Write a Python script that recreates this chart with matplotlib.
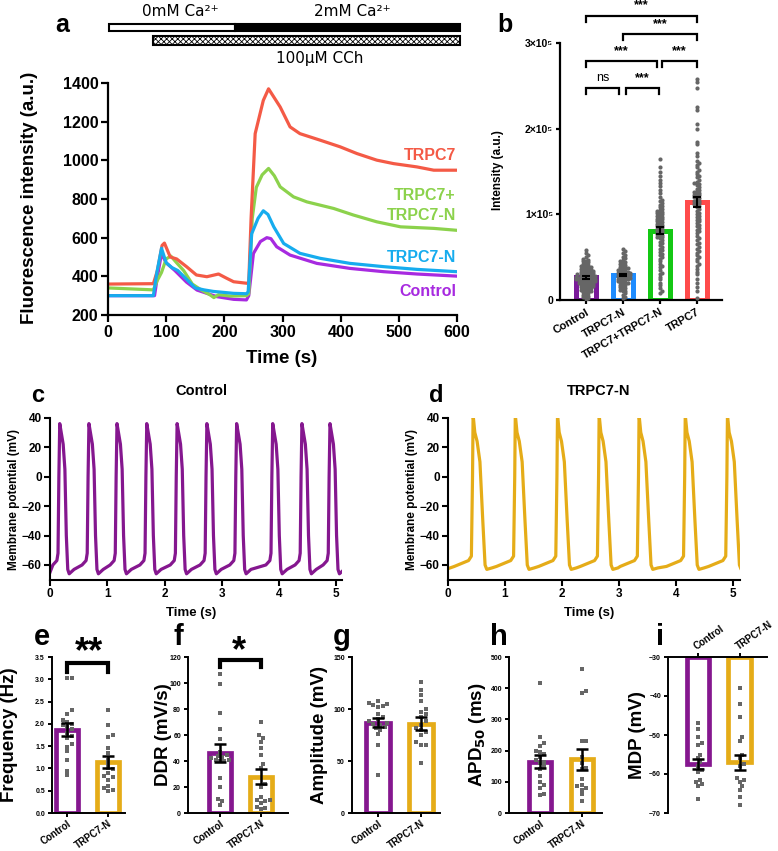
import numpy as np
import matplotlib
matplotlib.use('Agg')
import matplotlib.pyplot as plt
from matplotlib.patches import Rectangle

plt.rcParams['font.family'] = ['Liberation Sans', 'DejaVu Sans']
plt.rcParams['font.weight'] = 'bold'
plt.rcParams['axes.labelweight'] = 'bold'
plt.rcParams['hatch.linewidth'] = 0.6

# ---------------- data ----------------
# panel a: Ca2+ imaging traces (time in s, fluorescence a.u.)
t_trpc7 = [0, 78, 85, 93, 97, 107, 118, 135, 152, 170, 190, 204, 216, 239,
           242, 246, 253, 267, 276, 296, 313, 330, 365, 399, 428, 462, 491, 531, 560, 600]
v_trpc7 = [360, 362, 430, 560, 572, 500, 490, 450, 407, 398, 412, 390, 372, 364,
           370, 700, 1138, 1310, 1370, 1276, 1173, 1138, 1104, 1070, 1035, 1001, 983, 966, 949, 949]
t_both = [0, 78, 85, 92, 100, 108, 118, 130, 145, 160, 175, 182, 190, 210, 238,
          242, 248, 255, 265, 276, 286, 296, 319, 342, 388, 422, 462, 503, 560, 600]
v_both = [340, 330, 380, 420, 490, 505, 470, 430, 360, 330, 305, 290, 305, 298, 300,
          310, 700, 860, 925, 958, 920, 863, 811, 785, 751, 717, 682, 656, 648, 638]
t_n = [0, 78, 84, 92, 100, 110, 120, 135, 150, 165, 181, 216, 238,
       241, 247, 258, 267, 275, 285, 302, 330, 365, 416, 474, 531, 600]
v_n = [300, 300, 420, 545, 470, 445, 430, 385, 340, 330, 322, 312, 310,
       320, 620, 700, 739, 720, 656, 570, 519, 493, 467, 450, 436, 424]
t_ctrl = [0, 80, 85, 92, 100, 115, 135, 153, 187, 216, 238,
          242, 250, 262, 273, 280, 290, 313, 359, 416, 474, 531, 600]
v_ctrl = [300, 300, 400, 518, 470, 430, 370, 329, 295, 281, 278,
          300, 518, 580, 600, 595, 553, 510, 467, 441, 424, 412, 401]

# panel b: intensity per cell (x1000 a.u.)
b_groups = ['Control', 'TRPC7-N', 'TRPC7+TRPC7-N', 'TRPC7']
b_means = [26.5, 29, 80.7, 114]
b_sems = [1.5, 1.5, 4, 6]
b_ctrl = [58, 55, 52, 50, 48, 47, 46, 45, 44, 43, 42, 41, 40, 40, 39, 38, 38, 37, 36, 36,
          35, 35, 34, 34, 33, 33, 32, 32, 31, 31, 30, 30, 30, 29, 29, 28, 28, 28, 27, 27,
          27, 26, 26, 26, 25, 25, 25, 24, 24, 24, 23, 23, 23, 22, 22, 22, 21, 21, 20, 20,
          20, 19, 19, 18, 18, 17, 17, 16, 16, 15, 15, 14, 14, 13, 12, 12, 11, 10, 10, 9,
          8, 7, 6, 5, 4, 3, 2, 1]
b_n = [60, 57, 55, 52, 50, 49, 47, 45, 44, 43, 42, 41, 40, 39, 38, 37, 37, 36, 35, 35,
       34, 33, 33, 32, 32, 31, 31, 30, 30, 29, 29, 28, 28, 27, 27, 26, 26, 25, 25, 24,
       24, 23, 22, 22, 21, 20, 20, 19, 18, 17, 16, 15, 14, 13, 12, 11, 10, 8, 6, 4, 2]
b_both = [165, 155, 150, 145, 140, 137, 133, 128, 125, 120, 117, 115, 113, 111, 110, 108,
          106, 105, 104, 103, 102, 101, 100, 99, 98, 97, 96, 95, 94, 93, 92, 91, 90, 89,
          88, 87, 86, 85, 84, 83, 82, 81, 80, 79, 78, 77, 76, 75, 74, 73, 72, 70, 68, 66,
          64, 62, 60, 58, 56, 54, 52, 50, 48, 45, 42, 40, 38, 35, 32, 30, 27, 24, 20, 17,
          14, 10, 8]
b_trpc7 = [258, 255, 248, 225, 222, 205, 200, 185, 182, 172, 168, 162, 160, 158, 155, 152,
           150, 147, 145, 143, 140, 138, 136, 135, 134, 132, 130, 128, 127, 126, 125, 124,
           123, 122, 121, 120, 119, 118, 116, 115, 114, 113, 112, 111, 110, 108, 106, 104,
           102, 100, 98, 97, 95, 93, 92, 90, 88, 86, 84, 82, 80, 78, 75, 72, 70, 67, 65, 62,
           60, 57, 55, 52, 50, 48, 45, 42, 40, 36, 33, 30, 25, 20, 15, 10, 2]

# panels c, d: action potentials (peak times in s, one beat shape)
c_peaks = [0.17, 0.68, 1.17, 1.69, 2.22, 2.74, 3.26, 3.89, 4.40, 4.89]
c_beat_t = [-0.12, -0.05, -0.03, -0.015, 0.0, 0.03, 0.06, 0.09, 0.115, 0.14, 0.165, 0.25]
c_beat_v = [-60, -57, -52, 0, 36, 29, 22, 5, -40, -63, -66, -63]
d_peaks = [0.44, 1.18, 1.92, 2.65, 3.35, 4.16, 4.90]
d_beat_t = [-0.33, -0.08, -0.03, -0.01, 0.0, 0.03, 0.07, 0.12, 0.17, 0.21, 0.24, 0.33]
d_beat_v = [-61, -57, -54, 0, 42, 30, 24, 10, -30, -60, -63, -62]

# panels e-i: Control vs TRPC7-N
e_means, e_sems = [1.87, 1.15], [0.14, 0.14]
e_ctrl = [3.03, 3.03, 2.3, 2.22, 2.08, 2.04, 2.0, 1.97, 1.92, 1.88, 1.8, 1.72, 1.68,
          1.55, 1.48, 1.38, 1.2, 0.95, 0.85]
e_n = [2.32, 1.98, 1.75, 1.7, 1.45, 1.35, 1.2, 1.1, 1.0, 0.98, 0.9, 0.82, 0.8, 0.75,
       0.6, 0.55, 0.52, 0.5]
f_means, f_sems = [46, 28], [7, 5.5]
f_ctrl = [107, 99, 77, 65, 57, 47, 45, 44, 43, 42, 41, 41, 40, 40, 27, 20, 11, 9, 6]
f_n = [70, 60, 58, 55, 50, 45, 38, 35, 22, 20, 12, 10, 10, 9, 8, 5, 4, 3]
g_means, g_sems = [87, 86], [4, 6]
g_ctrl = [108, 106, 105, 104, 103, 102, 95, 92, 90, 88, 87, 86, 85, 83, 82, 80, 76, 65, 37]
g_n = [126, 118, 113, 108, 100, 97, 95, 92, 88, 85, 82, 80, 78, 75, 68, 65, 65, 48]
h_means, h_sems = [165, 172], [22, 33]
h_ctrl = [418, 245, 225, 215, 200, 195, 190, 180, 170, 165, 160, 150, 140, 120, 100,
          90, 80, 60, 58]
h_n = [462, 390, 385, 230, 230, 180, 160, 145, 140, 110, 90, 85, 80, 75, 60, 40]
i_means, i_sems = [-57.5, -57], [1.3, 2]
i_ctrl = [-47, -48.5, -50.5, -52, -52.5, -55, -56, -57, -58, -59, -59.5, -61.5, -62,
          -62.5, -63, -66.5]
i_n = [-38, -42, -45.5, -50.5, -51.5, -55, -56, -57.5, -58, -61, -61.5, -62, -63, -64,
       -66, -68]
pair_labels = ['Control', 'TRPC7-N']

# ---------------- styling ----------------
RED, GREEN, BLUE, VIOLET = '#F45A46', '#8CD24C', '#16ACEE', '#A72AE0'
PURPLE, GOLD, GRAY = '#85178F', '#E5AC18', '#666666'
B_COLORS = ['#7A1A9A', '#1E8CFF', '#14C814', '#FF4B4B']

W, H = 778, 851
fig = plt.figure(figsize=(W / 100, H / 100), dpi=100)


def px_axes(l, t, r, b):
    return fig.add_axes([l / W, 1 - b / H, (r - l) / W, (b - t) / H])


def ftext(x, y, s, **kw):
    fig.text(x / W, 1 - y / H, s, ha='center', va='center', **kw)


def clean(ax, lw=1.5, length=4, size=8):
    for s in ['top', 'right']:
        ax.spines[s].set_visible(False)
    for s in ['left', 'bottom']:
        ax.spines[s].set_linewidth(lw)
    ax.tick_params(width=lw, length=length, labelsize=size, pad=2)


def swarm(vals, xc, sx, sy, d):
    # simple beeswarm: offsets in pixels, returned in data units
    placed, out = [], []
    offs = [0.0]
    for k in range(1, 80):
        offs += [k * d / 2, -k * d / 2]
    for v in sorted(vals):
        y = v * sy
        for off in offs:
            if all((off - px) ** 2 + (y - py) ** 2 >= d * d for px, py in placed):
                break
        placed.append((off, y))
        out.append((xc + off / sx, v))
    xs, ys = zip(*out)
    return xs, ys


# ---------------- panel a ----------------
ax = px_axes(108, 83, 457, 315)
for t, v, c in [(t_ctrl, v_ctrl, VIOLET), (t_both, v_both, GREEN),
                (t_trpc7, v_trpc7, RED), (t_n, v_n, BLUE)]:
    ax.plot(t, v, color=c, lw=2.3, solid_joinstyle='round')
ax.set_xlim(0, 600)
ax.set_ylim(200, 1400)
ax.set_xticks(range(0, 601, 100))
ax.set_yticks(range(200, 1401, 200))
clean(ax, lw=1.6, length=5, size=11.5)
ftext(30, 198, 'Fluorescence intensity (a.u.)', rotation=90, fontsize=13.5)
ftext(282, 358, 'Time (s)', fontsize=13.5)
for y, s, c in [(155, 'TRPC7', RED), (195, 'TRPC7+', GREEN), (215, 'TRPC7-N', GREEN),
                (257, 'TRPC7-N', BLUE), (291, 'Control', VIOLET)]:
    fig.text(456 / W, 1 - y / H, s, ha='right', va='center', color=c, fontsize=11.5)

tr = ax.get_xaxis_transform()
ax.add_patch(Rectangle((2, 1.222), 216, 0.032, transform=tr, clip_on=False,
                       facecolor='white', edgecolor='black', lw=1.5))
ax.add_patch(Rectangle((218, 1.222), 388, 0.032, transform=tr, clip_on=False,
                       facecolor='black', edgecolor='black', lw=1.5))
ax.add_patch(Rectangle((78, 1.165), 528, 0.036, transform=tr, clip_on=False,
                       facecolor='white', edgecolor='black', lw=1.5, hatch='xxxxxx'))
ftext(180, 12, '0mM Ca²⁺', fontsize=11, fontweight='normal', family='DejaVu Sans')
ftext(352, 12, '2mM Ca²⁺', fontsize=11, fontweight='normal', family='DejaVu Sans')
ftext(320, 58, '100µM CCh', fontsize=11, fontweight='normal', family='DejaVu Sans')
ftext(62, 25, 'a', fontsize=18)

# ---------------- panel b ----------------
ax = px_axes(560, 43, 722, 300)
xb = np.arange(len(b_groups))
ax.bar(xb, b_means, width=0.54, facecolor='white', edgecolor=B_COLORS, lw=3.6, zorder=2)
for i, vals in enumerate([b_ctrl, b_n, b_both, b_trpc7]):
    xs, ys = swarm(vals, i, 37, 0.857, 2.4)
    ax.scatter(xs, ys, s=9, color=GRAY, linewidths=0, zorder=3)
ax.errorbar(xb, b_means, yerr=b_sems, fmt='none', ecolor='black', elinewidth=1.5,
            capsize=3, capthick=1.5, zorder=4)
ax.set_xlim(-0.7, 3.68)
ax.set_ylim(0, 300)
ax.set_yticks([0, 100, 200, 300])
ax.set_yticklabels(['0', '1×10⁵', '2×10⁵', '3×10⁵'])
ax.set_xticks(xb)
ax.set_xticklabels(b_groups, rotation=30, ha='right', rotation_mode='anchor')
clean(ax, lw=1.6, length=3, size=7.5)
ax.tick_params(axis='x', labelsize=8)
for x0, x1, y, s in [(0, 0.9, 247, 'ns'), (1.08, 1.97, 247, '***'),
                     (0, 1.91, 279, '***'), (2.07, 3, 279, '***'),
                     (1, 3, 310, '***'), (0, 3, 332, '***')]:
    ax.plot([x0, x0, x1, x1], [y - 7, y, y, y - 7], color='black', lw=1.6,
            clip_on=False, solid_joinstyle='miter')
    ax.text((x0 + x1) / 2, y + 12, s, ha='center', va='center', fontsize=9,
            fontweight='normal' if s == 'ns' else 'bold', clip_on=False)
ftext(498, 170, 'Intensity (a.u.)', rotation=90, fontsize=8.5)
ftext(505, 25, 'b', fontsize=18)


# ---------------- panels c, d ----------------
def ap_trace(peaks, bt, bv, start_v):
    t, v = [0.0], [start_v]
    for p in peaks:
        t += [p + dt for dt in bt]
        v += list(bv)
    return t, v


for left, right, xmax, peaks, bt, bv, v0, col, title, lab in [
        (50, 342, 5.1, c_peaks, c_beat_t, c_beat_v, -65, PURPLE, 'Control', 'c'),
        (448, 740, 5.12, d_peaks, d_beat_t, d_beat_v, -62.5, GOLD, 'TRPC7-N', 'd')]:
    ax = px_axes(left, 417.7, right, 579.7)
    t, v = ap_trace(peaks, bt, bv, v0)
    ax.plot(t, v, color=col, lw=2.3, solid_joinstyle='round')
    ax.set_xlim(0, xmax)
    ax.set_ylim(-70, 40)
    ax.set_xticks(range(6))
    ax.set_yticks(range(-60, 41, 20))
    clean(ax, lw=1.5, length=4, size=8.5)
    cx = left + (right - left) / 2 - 5
    ftext(cx, 613, 'Time (s)', fontsize=9.5)
    ftext(cx + 10, 391, title, fontsize=10.5)
    ftext(left - 36, 500, 'Membrane potential (mV)', rotation=90, fontsize=8.5)
    ftext(left - 12, 395, lab, fontsize=17)


# ---------------- panels e-i ----------------
def bar_panel(ax, means, sems, dots, sy, base=0.0):
    xs = np.arange(2)
    ax.bar(xs, np.array(means) - base, bottom=base, width=0.54, facecolor='white',
           edgecolor=[PURPLE, GOLD], lw=3.4, zorder=2)
    for i, vals in enumerate(dots):
        dx, dy = swarm(vals, i, 41, sy, 4.4)
        ax.scatter(dx, dy, s=8, marker='s', color=GRAY, linewidths=0, zorder=3)
    ax.errorbar(xs, means, yerr=sems, fmt='none', ecolor='black', elinewidth=1.8,
                capsize=4, capthick=1.8, zorder=4)
    ax.set_xticks(xs)


panels = [
    ('e', 52, 125, (-0.37, 1.41), e_means, e_sems, [e_ctrl, e_n], (0, 3.5),
     np.arange(0, 3.51, 0.5), 'Frequency (Hz)', 10),
    ('f', 188, 288, (-0.78, 1.66), f_means, f_sems, [f_ctrl, f_n], (0, 120),
     range(0, 121, 20), 'DDR (mV/s)', 163),
    ('g', 352, 440, (-0.6, 1.44), g_means, g_sems, [g_ctrl, g_n], (0, 150),
     range(0, 151, 50), 'Amplitude (mV)', 320),
    ('h', 509, 602, (-0.74, 1.48), h_means, h_sems, [h_ctrl, h_n], (0, 500),
     range(0, 501, 100), r'APD$_\mathbf{50}$ (ms)', 477),
]
for lab, left, right, xlim, means, sems, dots, ylim, yt, ylab, lx in panels:
    ax = px_axes(left, 657, right, 813)
    sy = 156 / (ylim[1] - ylim[0])
    bar_panel(ax, means, sems, dots, sy)
    ax.set_xlim(*xlim)
    ax.set_ylim(*ylim)
    ax.set_yticks(list(yt))
    if lab == 'e':
        ax.set_yticklabels([f'{v:.1f}' for v in yt])
    ax.set_xticklabels(pair_labels, rotation=35, ha='right', rotation_mode='anchor')
    clean(ax, lw=1.4, length=3, size=5)
    ax.tick_params(axis='x', labelsize=7, pad=1)
    ftext(lx, 735, ylab, rotation=90, fontsize=13.5)
    ftext(left - 10, 637, lab, fontsize=21)
    if lab == 'e':
        ax.plot([0, 0, 1, 1], [3.16, 3.37, 3.37, 3.16], color='black', lw=3,
                clip_on=False, solid_joinstyle='miter')
        ftext(89, 653, '**', fontsize=26)
    if lab == 'f':
        ax.plot([0, 0, 1, 1], [112, 118, 118, 112], color='black', lw=3,
                clip_on=False, solid_joinstyle='miter')
        ftext(239, 652, '*', fontsize=26)

# panel i: bars hang from -30
ax = px_axes(668, 657, 767, 813)
bar_panel(ax, i_means, i_sems, [i_ctrl, i_n], 156 / 40, base=-30)
ax.set_xlim(-0.72, 1.66)
ax.set_ylim(-70, -30)
ax.set_yticks(range(-70, -29, 10))
ax.xaxis.tick_top()
ax.set_xticklabels(pair_labels, rotation=35, ha='left', rotation_mode='anchor')
for s in ['bottom', 'right']:
    ax.spines[s].set_visible(False)
for s in ['left', 'top']:
    ax.spines[s].set_linewidth(1.4)
ax.tick_params(width=1.4, length=3, labelsize=5, pad=2)
ax.tick_params(axis='x', labelsize=7, pad=1)
ftext(638, 735, 'MDP (mV)', rotation=90, fontsize=13.5)
ftext(660, 637, 'i', fontsize=21)

fig.savefig('out.png', dpi=100)
